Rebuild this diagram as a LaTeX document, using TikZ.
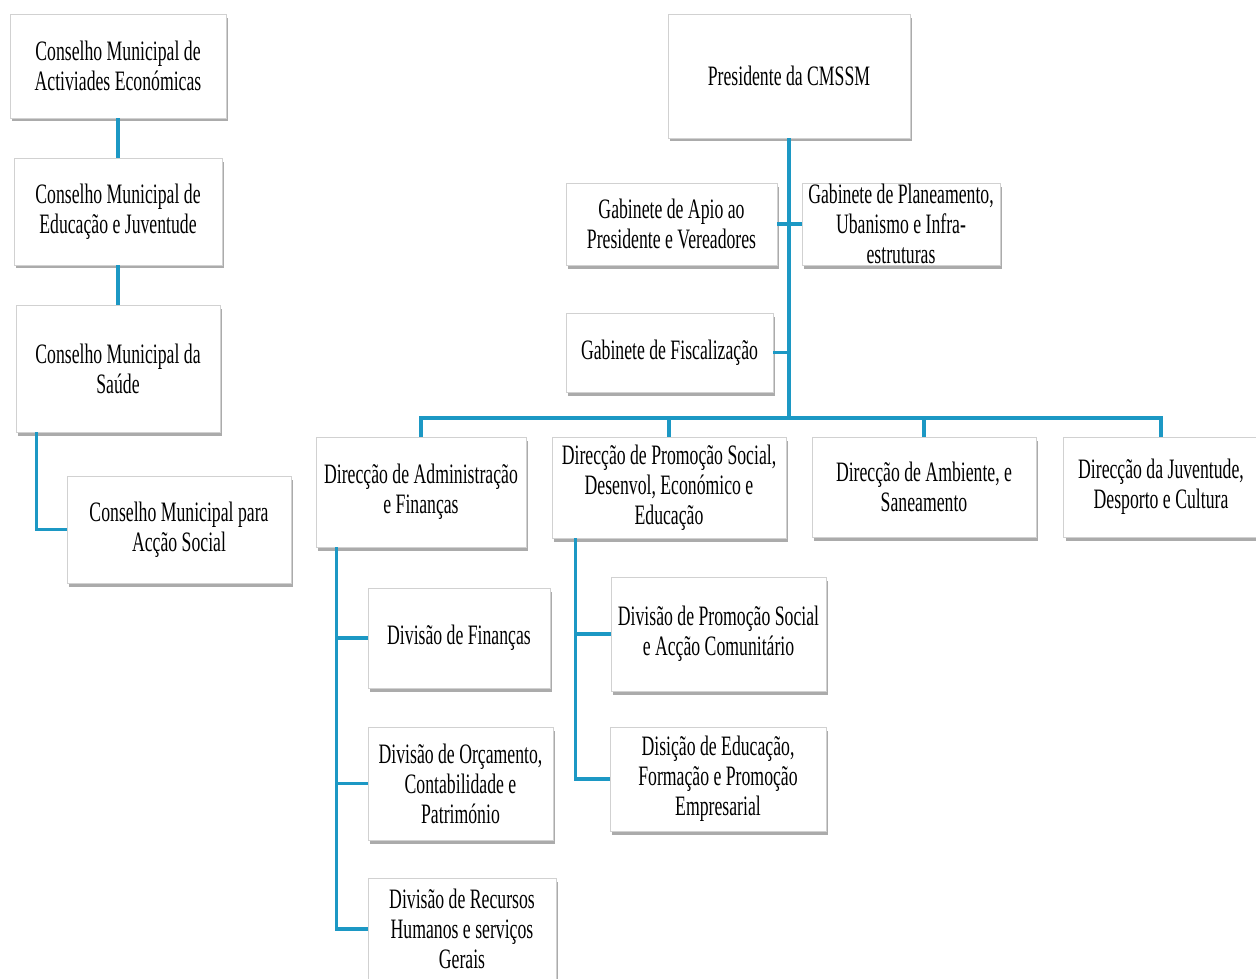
\documentclass[tikz,border=0pt]{standalone}
\usepackage{fontspec}
\setmainfont{Liberation Serif}[FakeStretch=0.63]
\usepackage{tikz}
\usetikzlibrary{shadows, calc, positioning}

\definecolor{linkblue}{RGB}{28,152,196}

\tikzset{
    unit/.style={fill=white, draw=black!18, line width=0.3pt, align=center, inner sep=2pt,
        font=\fontsize{16}{17}\selectfont,
        drop shadow={shadow xshift=0.04cm, shadow yshift=-0.07cm, fill=black!55, opacity=0.6}},
    link/.style={draw=linkblue, line width=1.8pt}
}

\begin{document}
\begin{tikzpicture}[x=0.02cm, y=-0.02cm]
    \useasboundingbox (0,0) rectangle (1256,978);

    % --- Conselhos ---
    \node[unit, minimum width=4.32cm, minimum height=2.08cm] (cmae) at (118,66) {Conselho Municipal de\\Activiades Económicas};
    \node[unit, minimum width=4.16cm, minimum height=2.14cm] (cmej) at (118,211.5) {Conselho Municipal de\\Educação e Juventude};
    \node[unit, minimum width=4.08cm, minimum height=2.54cm] (cms) at (118,368.5) {Conselho Municipal da\\Saúde};
    \node[unit, minimum width=4.48cm, minimum height=2.14cm] (cmas) at (179,529.5) {Conselho Municipal para\\Acção Social};

    % --- Presidente e gabinetes ---
    \node[unit, minimum width=4.84cm, minimum height=2.48cm] (pres) at (789,76) {Presidente da CMSSM};
    \node[unit, minimum width=4.22cm, minimum height=1.64cm] (gapv) at (671.5,224) {Gabinete de Apio ao\\Presidente e Vereadores};
    \node[unit, minimum width=3.96cm, minimum height=1.64cm, inner sep=0pt] (gpui) at (901,224) {Gabinete de Planeamento,\\Ubanismo e Infra-\\estruturas};
    \node[unit, minimum width=4.14cm, minimum height=1.58cm] (gf) at (669.5,352.5) {Gabinete de Fiscalização};

    % --- Direcções ---
    \node[unit, minimum width=4.20cm, minimum height=2.20cm] (daf) at (421,492) {Direcção de Administração\\e Finanças};
    \node[unit, minimum width=4.68cm, minimum height=2.02cm] (dps) at (669,487.5) {Direcção de Promoção Social,\\Desenvol, Económico e\\Educação};
    \node[unit, minimum width=4.48cm, minimum height=2.00cm] (das) at (924,487) {Direcção de Ambiente, e\\Saneamento};
    \node[unit, minimum width=3.90cm, minimum height=2.00cm] (djdc) at (1161,487) {Direcção da Juventude,\\Desporto e Cultura};

    % --- Divisões ---
    \node[unit, minimum width=3.64cm, minimum height=2.00cm] (df) at (459,638) {Divisão de Finanças};
    \node[unit, minimum width=3.70cm, minimum height=2.26cm] (doc) at (460.5,783.5) {Divisão de Orçamento,\\Contabilidade e\\Património};
    \node[unit, minimum width=3.76cm, minimum height=2.04cm] (drh) at (462,929) {Divisão de Recursos\\Humanos e serviços\\Gerais};
    \node[unit, minimum width=4.30cm, minimum height=2.28cm] (dpsac) at (718.5,634) {Divisão de Promoção Social\\e Acção Comunitário};
    \node[unit, minimum width=4.32cm, minimum height=2.08cm] (defp) at (718,779) {Disição de Educação,\\Formação e Promoção\\Empresarial};

    % --- Ligações dos conselhos ---
    \draw[link] (cmae) -- (cmej);
    \draw[link] (cmej) -- (cms);
    \draw[link] ($(cms.south west)+(21,0)$) |- (cmas.west);

    % --- Tronco do presidente ---
    \coordinate (bus) at (789,418);
    \draw[link] (pres.south) -- (bus);
    \draw[link] (gapv.east) -- (gpui.west);
    \draw[link] (gf.east) -- (gf.east -| bus);
    \draw[link] (daf.north) |- (bus) -| (djdc.north);
    \draw[link] (dps.north) -- (dps.north |- bus);
    \draw[link] (das.north) -- (das.north |- bus);

    % --- Divisões da administração ---
    \coordinate (afspine) at ($(daf.south west)+(21,0)$);
    \draw[link] (afspine) |- (drh.west);
    \draw[link] (afspine |- df.west) -- (df.west);
    \draw[link] (afspine |- doc.west) -- (doc.west);

    % --- Divisões da promoção social ---
    \coordinate (psspine) at ($(dps.south west)+(24,0)$);
    \draw[link] (psspine) |- (defp.west);
    \draw[link] (psspine |- dpsac.west) -- (dpsac.west);
\end{tikzpicture}
\end{document}
